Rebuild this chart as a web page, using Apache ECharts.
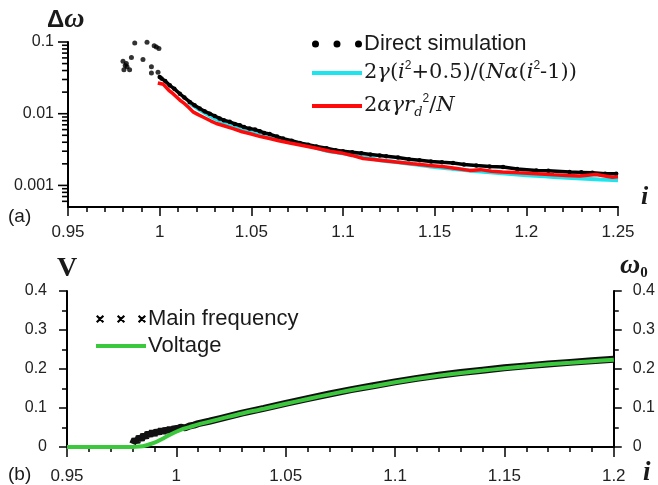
<!DOCTYPE html>
<html>
<head>
<meta charset="utf-8">
<script src="https://cdn.jsdelivr.net/npm/echarts@6/dist/echarts.min.js"></script>
<style>
  html, body { margin: 0; padding: 0; background: #fff; }
  #chart { width: 658px; height: 485px; }
</style>
</head>
<body>
<div id="chart"></div>
<script>
// ---- panel (a): delta omega vs i ----
const simScatterI = [0.9800, 0.9805, 0.9812, 0.9818, 0.9822, 0.9836, 0.9846, 0.9864, 0.9909, 0.9931, 0.9955, 0.9955, 0.9970, 0.9982, 0.9991, 0.9996];
const simScatterV = [0.054, 0.041, 0.047, 0.050, 0.045, 0.041, 0.061, 0.097, 0.057, 0.099, 0.045, 0.037, 0.089, 0.085, 0.038, 0.081];

const simI = [1.000, 1.001, 1.003, 1.0055, 1.008, 1.011, 1.0135, 1.0164, 1.019, 1.0218, 1.0245, 1.0273, 1.030, 1.0327, 1.035, 1.0382, 1.041, 1.0437, 1.046, 1.049,
  1.052, 1.0546, 1.057, 1.060, 1.064, 1.0673, 1.072, 1.0764, 1.081, 1.0855, 1.091, 1.096, 1.100, 1.105, 1.110, 1.115, 1.120, 1.1236, 1.130, 1.136,
  1.1418, 1.148, 1.154, 1.160, 1.166, 1.1727, 1.180, 1.1873, 1.195, 1.2055, 1.212, 1.2236, 1.230, 1.236, 1.243, 1.249];
const simV = [0.0325, 0.0310, 0.0285, 0.0249, 0.0222, 0.0190, 0.0168, 0.0146, 0.0131, 0.0118, 0.0108, 0.0100, 0.0093, 0.0086, 0.0081, 0.0077, 0.0072, 0.0069, 0.0065, 0.0062,
  0.0060, 0.0057, 0.0054, 0.0052, 0.0048, 0.0045, 0.0042, 0.0039, 0.0037, 0.0035, 0.0033, 0.0031, 0.0030, 0.0029, 0.0028, 0.0027, 0.00262, 0.00255, 0.00245, 0.00232,
  0.00224, 0.00216, 0.00210, 0.00205, 0.00196, 0.00190, 0.00184, 0.00180, 0.00170, 0.00162, 0.00160, 0.00154, 0.00152, 0.00150, 0.00145, 0.00146];

const cyanI = [1.0155, 1.0218, 1.030, 1.040, 1.050, 1.060, 1.070, 1.080, 1.090, 1.100, 1.110, 1.120, 1.130, 1.140, 1.150, 1.160, 1.170, 1.180, 1.190, 1.200, 1.210, 1.220, 1.230, 1.240, 1.250];
const cyanV = [0.0146, 0.0113, 0.0086, 0.0067, 0.0056, 0.0048, 0.0042, 0.0037, 0.0031, 0.0028, 0.0025, 0.00225, 0.0021, 0.00195, 0.0018, 0.0017, 0.0016, 0.00152, 0.00145, 0.00139, 0.00134, 0.00129, 0.00125, 0.00121, 0.00118];

const redI = [0.999, 1.002, 1.005, 1.0073, 1.011, 1.0136, 1.016, 1.0182, 1.021, 1.0236, 1.028, 1.0309, 1.035, 1.040, 1.045, 1.049, 1.055, 1.060, 1.065, 1.071,
  1.078, 1.0855, 1.093, 1.100, 1.105, 1.111, 1.120, 1.129, 1.138, 1.1473, 1.155, 1.162, 1.169, 1.175, 1.181, 1.187, 1.196, 1.2055, 1.215, 1.222, 1.229, 1.238, 1.247, 1.250];
const redV = [0.0268, 0.0257, 0.0212, 0.0190, 0.0155, 0.0138, 0.0121, 0.0106, 0.0097, 0.0090, 0.0079, 0.0073, 0.0068, 0.0062, 0.0056, 0.0053, 0.0048, 0.0045, 0.0042, 0.0039,
  0.0036, 0.0033, 0.0030, 0.0028, 0.00262, 0.00237, 0.00225, 0.00212, 0.00200, 0.00190, 0.00182, 0.00172, 0.00162, 0.00166, 0.00158, 0.00154, 0.00150, 0.00146, 0.00141, 0.00138, 0.00135, 0.00142, 0.00130, 0.00132];

const logMajorTicks = [0.001, 0.01, 0.1];
const logMinorTicks = [0.0006, 0.0007, 0.0008, 0.0009, 0.002, 0.003, 0.004, 0.005, 0.006, 0.007, 0.008, 0.009, 0.02, 0.03, 0.04, 0.05, 0.06, 0.07, 0.08, 0.09];

// ---- panel (b): voltage / main frequency vs i ----
const voltI = [0.95, 0.96, 0.97, 0.98, 0.983, 0.986, 0.99, 0.994, 0.998, 1.002, 1.006, 1.01, 1.02, 1.03, 1.04, 1.05, 1.06, 1.07, 1.08, 1.09,
  1.10, 1.11, 1.12, 1.13, 1.14, 1.15, 1.16, 1.17, 1.18, 1.19, 1.20];
const voltV = [0, 0, 0, 0, 0.001, 0.004, 0.011, 0.022, 0.034, 0.044, 0.051, 0.058, 0.072, 0.086, 0.098, 0.111, 0.123, 0.135, 0.146, 0.156,
  0.166, 0.175, 0.183, 0.190, 0.196, 0.202, 0.207, 0.212, 0.216, 0.220, 0.224];

const freqI = [0.980, 0.981, 0.982, 0.983, 0.984, 0.985, 0.986, 0.987, 0.988, 0.989, 0.990, 0.991, 0.992, 0.993, 0.994, 0.995, 0.996, 0.997, 0.998, 0.999,
  1.000, 1.002, 1.004, 1.006, 1.008, 1.010, 1.015, 1.020, 1.030, 1.040, 1.050, 1.060, 1.070, 1.080, 1.090, 1.100, 1.110, 1.120, 1.130, 1.140,
  1.150, 1.160, 1.170, 1.180, 1.190, 1.200];
const freqV = [0.008, 0.020, 0.012, 0.027, 0.018, 0.032, 0.024, 0.037, 0.029, 0.040, 0.031, 0.042, 0.035, 0.045, 0.037, 0.046, 0.040, 0.048, 0.042, 0.049,
  0.045, 0.051, 0.049, 0.054, 0.056, 0.060, 0.066, 0.073, 0.087, 0.099, 0.112, 0.124, 0.136, 0.147, 0.157, 0.167, 0.176, 0.184, 0.191, 0.197,
  0.203, 0.208, 0.213, 0.217, 0.221, 0.225];

const zip = (xs, ys) => xs.map((x, k) => [x, ys[k]]);

const SANS = 'Liberation Sans, Arial, sans-serif';
const SERIF = 'Liberation Serif, Times New Roman, serif';
const MATH = 'DejaVu Serif, serif';
const INK = '#1a1a1a';

const DOTS_ICON = 'path://M0,3.5a3.5,3.5 0 1,0 7,0a3.5,3.5 0 1,0 -7,0M21.5,3.5a3.5,3.5 0 1,0 7,0a3.5,3.5 0 1,0 -7,0M43,3.5a3.5,3.5 0 1,0 7,0a3.5,3.5 0 1,0 -7,0';
const CROSS_ICON = 'path://M0.5,2L2,0.5L8.5,7L7,8.5ZM7,0.5L8.5,2L2,8.5L0.5,7Z' +
  'M21,2L22.5,0.5L29,7L27.5,8.5ZM27.5,0.5L29,2L22.5,8.5L21,7Z' +
  'M41.5,2L43,0.5L49.5,7L48,8.5ZM48,0.5L49.5,2L43,8.5L41.5,7Z';

function logLabel(v) {
  const e = Math.log10(v);
  return Math.abs(e - Math.round(e)) < 1e-6 ? String(Math.pow(10, Math.round(e))) : '';
}

const mathRich = {
  n: { fontFamily: MATH, fontSize: 21, color: INK, lineHeight: 26 },
  it: { fontFamily: MATH, fontStyle: 'italic', fontSize: 21, color: INK, lineHeight: 26 },
  sup: { fontFamily: SANS, fontSize: 12, color: INK, verticalAlign: 'top', lineHeight: 14 },
  sub: { fontFamily: MATH, fontStyle: 'italic', fontSize: 13, color: INK, verticalAlign: 'bottom', lineHeight: 14 }
};

const legendBase = {
  orient: 'vertical',
  padding: 0,
  itemWidth: 50,
  itemGap: 0,
  selectedMode: false,
  textStyle: { fontFamily: SANS, fontSize: 22, color: INK, lineHeight: 26, padding: [0, 0, 0, -3] }
};

const labelsGraphic = [
  { type: 'text', left: 8, top: 207, style: { text: '(a)', fontFamily: SANS, fontSize: 19, fill: INK } },
  { type: 'text', left: 8, top: 465, style: { text: '(b)', fontFamily: SANS, fontSize: 19, fill: INK } },
  {
    type: 'text', left: 47, top: 6,
    style: {
      text: '{a|Δ}{b|ω}',
      rich: {
        a: { fontFamily: SANS, fontWeight: 'bold', fontSize: 24, fill: INK },
        b: { fontFamily: SERIF, fontWeight: 'bold', fontStyle: 'italic', fontSize: 28, fill: INK }
      }
    }
  },
  { type: 'text', left: 641, top: 184, style: { text: 'i', fontFamily: SERIF, fontWeight: 'bold', fontStyle: 'italic', fontSize: 26, fill: INK } },
  { type: 'text', left: 643, top: 460, style: { text: 'i', fontFamily: SERIF, fontWeight: 'bold', fontStyle: 'italic', fontSize: 27, fill: INK } },
  { type: 'text', left: 57, top: 255, style: { text: 'V', fontFamily: SERIF, fontWeight: 'bold', fontSize: 28, fill: INK } },
  {
    type: 'text', left: 620, top: 252,
    style: {
      text: '{w|ω}{s|0}',
      rich: {
        w: { fontFamily: SERIF, fontWeight: 'bold', fontStyle: 'italic', fontSize: 28, fill: INK, lineHeight: 30 },
        s: { fontFamily: SERIF, fontWeight: 'bold', fontSize: 15, fill: INK, verticalAlign: 'bottom', lineHeight: 15 }
      }
    }
  }
];

const chart = echarts.init(document.getElementById('chart'));
chart.setOption({
  animation: false,
  backgroundColor: '#fff',
  grid: [
    { left: 68, top: 42, width: 550, height: 165 },
    { left: 67, top: 291, width: 554, height: 159 }
  ],
  xAxis: [
    {
      type: 'value', gridIndex: 0, min: 0.95, max: 1.25, interval: 0.05,
      axisLine: { lineStyle: { color: '#000', width: 2 } },
      axisTick: { length: 9, lineStyle: { color: '#000', width: 1.5 } },
      minorTick: { show: true, splitNumber: 5, length: 5, lineStyle: { color: '#000', width: 1.5 } },
      axisLabel: { fontFamily: SANS, fontSize: 17, color: '#222', margin: 17 },
      splitLine: { show: false }
    },
    {
      type: 'value', gridIndex: 1, min: 0.95, max: 1.2, interval: 0.05,
      axisLine: { lineStyle: { color: '#000', width: 2 } },
      axisTick: { length: 10, lineStyle: { color: '#000', width: 1.5 } },
      minorTick: { show: true, splitNumber: 5, length: 5, lineStyle: { color: '#000', width: 1.5 } },
      axisLabel: { fontFamily: SANS, fontSize: 17, color: '#222', margin: 21 },
      splitLine: { show: false }
    }
  ],
  yAxis: [
    {
      type: 'log', gridIndex: 0, logBase: 10, min: 0.0005, max: 0.1,
      axisLine: { show: true, lineStyle: { color: '#000', width: 2 } },
      axisTick: { show: false },
      axisLabel: { fontFamily: SANS, fontSize: 16, color: '#222', margin: 14, formatter: logLabel },
      splitLine: { show: false }
    },
    {
      type: 'value', gridIndex: 1, min: 0, max: 0.4, interval: 0.1,
      axisLine: { show: true, lineStyle: { color: '#000', width: 2 } },
      axisTick: { show: true, length: 8, lineStyle: { color: '#000', width: 1.5 } },
      minorTick: { show: true, splitNumber: 2, length: 5, lineStyle: { color: '#000', width: 1.5 } },
      axisLabel: { fontFamily: SANS, fontSize: 16, color: '#222', margin: 20 },
      splitLine: { show: false }
    },
    {
      type: 'value', gridIndex: 1, position: 'right', min: 0, max: 0.4, interval: 0.1,
      axisLine: { show: true, lineStyle: { color: '#000', width: 2 } },
      axisTick: { show: true, length: 8, lineStyle: { color: '#000', width: 1.5 } },
      minorTick: { show: true, splitNumber: 2, length: 5, lineStyle: { color: '#000', width: 1.5 } },
      axisLabel: { fontFamily: SANS, fontSize: 16, color: '#222', margin: 19 },
      splitLine: { show: false }
    }
  ],
  legend: [
    Object.assign({}, legendBase, {
      left: 312, top: 31, itemHeight: 7, icon: DOTS_ICON,
      data: ['Direct simulation']
    }),
    Object.assign({}, legendBase, {
      left: 312, top: 60, itemHeight: 4, icon: 'rect',
      data: ['cyanFit'],
      formatter: () => '{n|2}{it|γ}{n|(}{it|i}{sup|2}{n|+0.5)/(}{it|Nα}{n|(}{it|i}{sup|2}{n|-1))}',
      textStyle: Object.assign({}, legendBase.textStyle, { rich: mathRich })
    }),
    Object.assign({}, legendBase, {
      left: 312, top: 93, itemHeight: 4, icon: 'rect',
      data: ['redFit'],
      formatter: () => '{n|2}{it|αγr}{sub|d}{sup|2}{n|/}{it|N}',
      textStyle: Object.assign({}, legendBase.textStyle, { rich: mathRich })
    }),
    Object.assign({}, legendBase, {
      left: 96, top: 306, itemHeight: 9, icon: CROSS_ICON,
      data: ['Main frequency']
    }),
    Object.assign({}, legendBase, {
      left: 96, top: 333, itemHeight: 4, icon: 'rect',
      data: ['Voltage']
    })
  ],
  series: [
    {
      name: 'cyanFit', type: 'line', xAxisIndex: 0, yAxisIndex: 0, z: 2,
      data: zip(cyanI, cyanV), showSymbol: false, smooth: 0.3,
      itemStyle: { color: '#1ee4ee' }, lineStyle: { color: '#1ee4ee', width: 4 }
    },
    {
      name: 'Direct simulation', type: 'line', xAxisIndex: 0, yAxisIndex: 0, z: 3,
      data: zip(simI, simV), symbol: 'circle', symbolSize: 4.5, showAllSymbol: true,
      itemStyle: { color: '#000' }, lineStyle: { color: '#000', width: 3.5 }
    },
    {
      name: 'Direct simulation', type: 'scatter', xAxisIndex: 0, yAxisIndex: 0, z: 3,
      data: zip(simScatterI, simScatterV), symbolSize: 5,
      itemStyle: { color: '#000' }
    },
    {
      name: 'redFit', type: 'line', xAxisIndex: 0, yAxisIndex: 0, z: 4,
      data: zip(redI, redV), showSymbol: false,
      itemStyle: { color: '#ff0a0a' }, lineStyle: { color: '#ff0a0a', width: 3.5 }
    },
    {
      name: 'Main frequency', type: 'line', xAxisIndex: 1, yAxisIndex: 2, z: 2,
      data: zip(freqI, freqV), showSymbol: false,
      itemStyle: { color: '#000' }, lineStyle: { color: '#111', width: 7 }
    },
    {
      name: 'Voltage', type: 'line', xAxisIndex: 1, yAxisIndex: 1, z: 3,
      data: zip(voltI, voltV), showSymbol: false, smooth: 0.3,
      itemStyle: { color: '#3cc83c' }, lineStyle: { color: '#3cc83c', width: 4 }
    }
  ],
  graphic: labelsGraphic
});

// log-axis ticks at true decade positions, placed through the log axis scale
function logTickLines(values, len) {
  return values.map(v => {
    const p = chart.convertToPixel({ gridIndex: 0 }, [0.95, v]);
    return {
      type: 'line', silent: true, z: 10,
      shape: { x1: p[0] - len, y1: p[1], x2: p[0], y2: p[1] },
      style: { stroke: '#000', lineWidth: 1.6 }
    };
  });
}

chart.setOption({
  graphic: labelsGraphic.concat(logTickLines(logMajorTicks, 10), logTickLines(logMinorTicks, 6))
});
</script>
</body>
</html>
